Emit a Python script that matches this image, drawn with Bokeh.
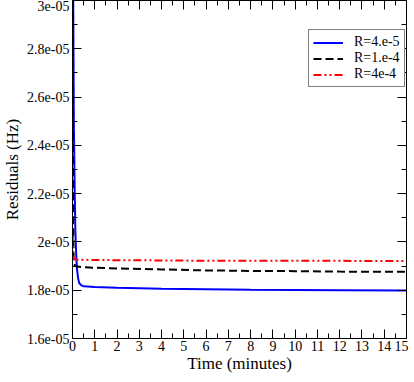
from bokeh.plotting import figure
from bokeh.models import Range1d, FixedTicker, LinearAxis
from bokeh.embed import file_html
from bokeh.resources import INLINE

# ---- data ----
time_blue = [0.02, 0.03, 0.06, 0.1, 0.13, 0.17, 0.2, 0.25, 0.3, 0.4, 0.5, 1, 2, 4, 6, 8, 10, 12, 15]
res_blue = [3.3e-5, 3.05e-5, 2.5e-5, 2.2e-5, 2.04e-5, 1.94e-5, 1.89e-5, 1.85e-5, 1.83e-5, 1.82e-5,
            1.816e-5, 1.813e-5, 1.81e-5, 1.806e-5, 1.804e-5, 1.802e-5, 1.801e-5, 1.8e-5, 1.799e-5]

time_black = [0.005, 0.015, 0.03, 0.05, 0.1, 0.2, 0.5, 1, 2, 4, 6, 8, 10, 12, 15]
res_black = [3.2e-5, 2.6e-5, 2.1e-5, 1.93e-5, 1.902e-5, 1.898e-5, 1.895e-5, 1.893e-5, 1.89e-5,
             1.886e-5, 1.882e-5, 1.88e-5, 1.879e-5, 1.877e-5, 1.876e-5]

time_red = [0.01, 0.03, 0.06, 0.1, 0.5, 1, 3, 6, 10, 15]
res_red = [2.03e-5, 1.95e-5, 1.93e-5, 1.927e-5, 1.926e-5, 1.925e-5, 1.924e-5, 1.922e-5, 1.922e-5, 1.921e-5]

series_labels = ["R=4.e-5", "R=1.e-4", "R=4e-4"]

x_ticks = list(range(0, 16))
x_minor = [i + 0.5 for i in range(0, 15)]
y_ticks = [1.6e-5, 1.8e-5, 2.0e-5, 2.2e-5, 2.4e-5, 2.6e-5, 2.8e-5, 3.0e-5]
y_tick_labels = ["1.6e-05", "1.8e-05", "2e-05", "2.2e-05", "2.4e-05", "2.6e-05", "2.8e-05", "3e-05"]
y_minor = [1.7e-5, 1.9e-5, 2.1e-5, 2.3e-5, 2.5e-5, 2.7e-5, 2.9e-5]

FONT = "'Liberation Serif', 'Times New Roman', serif"

FW, FH = 334, 338

p = figure(frame_width=FW, frame_height=FH, output_backend="svg", toolbar_location=None,
           x_range=Range1d(0, 15), y_range=Range1d(1.6e-5, 3.0e-5),
           min_border_left=0, min_border_right=2, min_border_top=0, min_border_bottom=0)
p.xgrid.grid_line_color = None
p.ygrid.grid_line_color = None
p.outline_line_color = "black"
p.outline_line_width = 1
p.background_fill_color = "white"
p.border_fill_color = "white"

xt = FixedTicker(ticks=x_ticks, minor_ticks=x_minor)
yt = FixedTicker(ticks=y_ticks, minor_ticks=y_minor)

def style_axis(ax, ticker, show_labels):
    ax.ticker = ticker
    ax.axis_line_color = "black"
    ax.major_tick_line_color = "black"
    ax.minor_tick_line_color = "black"
    ax.major_tick_in = 9
    ax.major_tick_out = 0
    ax.minor_tick_in = 5
    ax.minor_tick_out = 0
    if show_labels:
        ax.major_label_text_font = FONT
        ax.major_label_text_font_size = "14px"
        ax.major_label_text_color = "black"
        ax.axis_label_text_font = FONT
        ax.axis_label_text_font_size = "17px"
        ax.axis_label_text_font_style = "normal"
        ax.axis_label_text_color = "black"
    else:
        ax.major_label_text_color = None
        ax.major_label_text_font_size = "1px"
        ax.major_label_standoff = 0
        ax.axis_label = None

xa = p.xaxis[0]
ya = p.yaxis[0]
style_axis(xa, xt, True)
style_axis(ya, yt, True)
xa.axis_label = "Time (minutes)"
ya.axis_label = "Residuals (Hz)"
xa.major_label_standoff = 2
xa.axis_label_standoff = 0
ya.major_label_standoff = 3
ya.axis_label_standoff = 2
ya.major_label_overrides = {v: s for v, s in zip(y_ticks, y_tick_labels)}

top = LinearAxis()
style_axis(top, xt, False)
p.add_layout(top, "above")
right = LinearAxis()
style_axis(right, yt, False)
p.add_layout(right, "right")

p.line(time_blue, res_blue, line_color="#0000ff", line_width=2, legend_label=series_labels[0])
p.line(time_black, res_black, line_color="black", line_width=2, line_dash="8 4",
       legend_label=series_labels[1])
p.line(time_red, res_red, line_color="#ff0000", line_width=2, line_dash="8 3 2 3 2 3",
       legend_label=series_labels[2])

lg = p.legend[0]
lg.location = (FW - 98, FH - 87)
lg.border_line_color = "black"
lg.border_line_width = 1
lg.background_fill_color = "white"
lg.background_fill_alpha = 1
lg.label_text_font = FONT
lg.label_text_font_size = "14px"
lg.label_text_color = "black"
lg.padding = 4
lg.spacing = 0
lg.margin = 0
lg.glyph_width = 30
lg.glyph_height = 13
lg.label_height = 13
lg.label_standoff = 11
lg.label_text_baseline = "middle"

open("out.html", "w").write(file_html(p, INLINE))
